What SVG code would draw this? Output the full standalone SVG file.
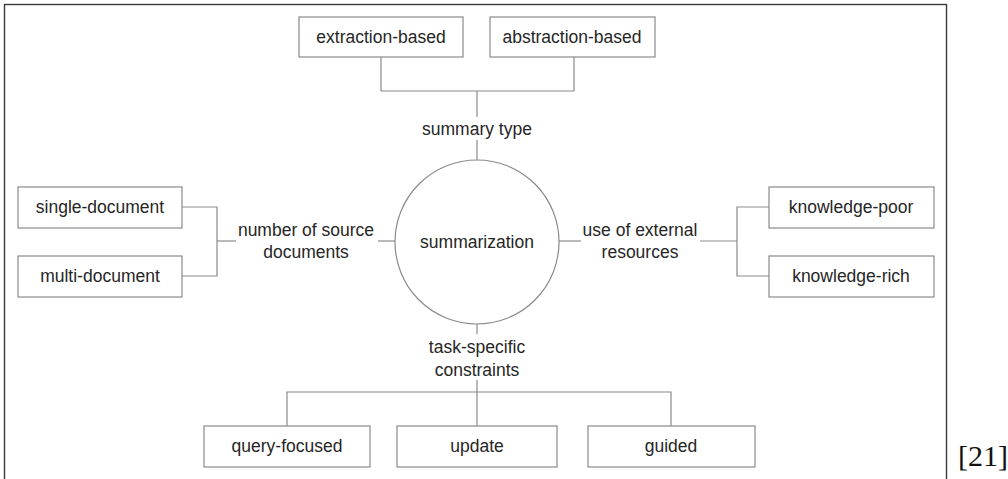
<svg xmlns="http://www.w3.org/2000/svg" width="1008" height="479" viewBox="0 0 1008 479">
<style>
.box{fill:#fff;stroke:#8a8a8a;stroke-width:1.2}
.ln{fill:none;stroke:#8a8a8a;stroke-width:1.2}
.t{font-family:"Liberation Sans",Arial,sans-serif;font-size:17.5px;fill:#262626;text-anchor:middle}
</style>
<rect x="0" y="0" width="1008" height="479" fill="#fff"/>
<rect id="frame" x="4.5" y="4.5" width="942" height="490" fill="none" stroke="#3a3a3a" stroke-width="1.4"/>
<g id="connectors">
<polyline class="ln" points="381,57 381,91 574,91 574,57"/>
<line class="ln" x1="477" y1="91" x2="477" y2="117"/>
<line class="ln" x1="477" y1="140" x2="477" y2="160"/>
<polyline class="ln" points="182,207 217,207 217,276 182,276"/>
<line class="ln" x1="217" y1="241" x2="236" y2="241"/>
<line class="ln" x1="378" y1="241" x2="395" y2="241"/>
<line class="ln" x1="559" y1="241" x2="581" y2="241"/>
<line class="ln" x1="700" y1="241" x2="737" y2="241"/>
<polyline class="ln" points="769,207 737,207 737,276 769,276"/>
<line class="ln" x1="477" y1="324" x2="477" y2="334"/>
<line class="ln" x1="477" y1="380" x2="477" y2="426"/>
<polyline class="ln" points="287,426 287,392 671,392 671,426"/>
</g>
<g id="summarization">
<circle cx="477" cy="242" r="82" fill="#fff" stroke="#8a8a8a" stroke-width="1.2"/>
<text class="t" x="477" y="248">summarization</text>
</g>
<g id="extraction-based"><rect class="box" x="299" y="17" width="164" height="40"/><text class="t" x="381" y="43">extraction-based</text></g>
<g id="abstraction-based"><rect class="box" x="490" y="17" width="165" height="40"/><text class="t" x="572" y="43">abstraction-based</text></g>
<g id="summary-type"><text class="t" x="477" y="135">summary type</text></g>
<g id="single-document"><rect class="box" x="18" y="187" width="164" height="41"/><text class="t" x="100" y="213">single-document</text></g>
<g id="multi-document"><rect class="box" x="18" y="256" width="164" height="41"/><text class="t" x="100" y="282">multi-document</text></g>
<g id="number-of-source-documents"><text class="t" x="306" y="236">number of source</text><text class="t" x="306" y="258">documents</text></g>
<g id="use-of-external-resources"><text class="t" x="640" y="236">use of external</text><text class="t" x="640" y="258">resources</text></g>
<g id="knowledge-poor"><rect class="box" x="769" y="187" width="165" height="41"/><text class="t" x="851" y="213">knowledge-poor</text></g>
<g id="knowledge-rich"><rect class="box" x="769" y="256" width="165" height="41"/><text class="t" x="851" y="282">knowledge-rich</text></g>
<g id="task-specific-constraints"><text class="t" x="477" y="353">task-specific</text><text class="t" x="477" y="376">constraints</text></g>
<g id="query-focused"><rect class="box" x="204" y="426" width="166" height="41"/><text class="t" x="287" y="452">query-focused</text></g>
<g id="update"><rect class="box" x="397" y="426" width="160" height="41"/><text class="t" x="477" y="452">update</text></g>
<g id="guided"><rect class="box" x="588" y="426" width="167" height="41"/><text class="t" x="671" y="452">guided</text></g>
<text x="958" y="466" font-family="'Liberation Serif','Times New Roman',serif" font-size="30" fill="#111">[21]</text>
</svg>
